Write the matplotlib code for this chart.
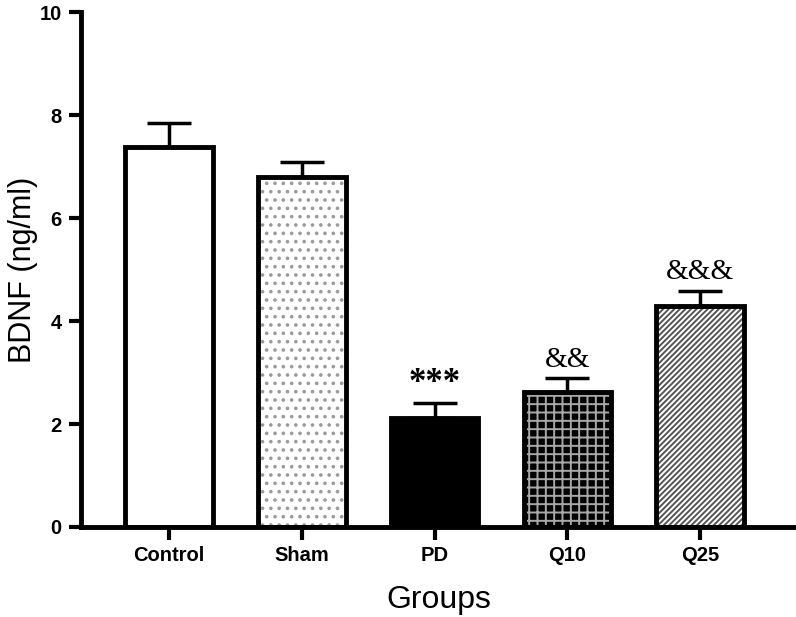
import numpy as np
import matplotlib.pyplot as plt

groups = ["Control", "Sham", "PD", "Q10", "Q25"]
bdnf = [7.38, 6.80, 2.12, 2.62, 4.29]
sem = [0.46, 0.29, 0.29, 0.27, 0.30]
marks = ["", "", "***", "&&", "&&&"]

plt.rcParams['font.family'] = ['Liberation Sans', 'DejaVu Sans']

fig = plt.figure(figsize=(7.96, 6.17), dpi=100)
ax = fig.add_axes([0.102, 0.146, 0.898, 0.834])

x = np.arange(len(groups))
w = 0.66

# fill / hatch layer for each bar
faces = ["white", "white", "black", "black", "white"]
hatches = [None, "..", None, "++", "//////"]
hcolors = ["white", "#9a9a9a", "black", "#a8a8a8", "#555555"]
plt.rcParams['hatch.linewidth'] = 1.4
for i in range(len(groups)):
    ax.bar(x[i], bdnf[i], w, color=faces[i], hatch=hatches[i],
           edgecolor=hcolors[i], linewidth=0, zorder=2)

# outlines
ax.bar(x, bdnf, w, facecolor="none", edgecolor="black", linewidth=3.5, zorder=3)

# upper error bars only
ax.errorbar(x, bdnf, yerr=[np.zeros(len(x)), sem], fmt="none", ecolor="black",
            elinewidth=2.5, capsize=16, capthick=2.5, zorder=4)

for i in range(len(groups)):
    if marks[i] == "***":
        ax.annotate(marks[i], (x[i], bdnf[i] + sem[i]), xytext=(0, 2),
                    textcoords="offset points", ha="center", va="bottom",
                    fontsize=25, fontweight="bold", family="Liberation Serif")
    elif marks[i]:
        ax.annotate(marks[i], (x[i], bdnf[i] + sem[i]), xytext=(0, 4),
                    textcoords="offset points", ha="center", va="bottom",
                    fontsize=21, family="Liberation Serif")

ax.set_xlim(-0.66, 4.72)
ax.set_ylim(0, 10)
ax.set_yticks([0, 2, 4, 6, 8, 10])
ax.set_xticks(x)
ax.set_xticklabels(groups)
for lab in ax.get_xticklabels() + ax.get_yticklabels():
    lab.set_fontweight("bold")
    lab.set_fontsize(14.5)

ax.spines["top"].set_visible(False)
ax.spines["right"].set_visible(False)
ax.spines["left"].set_linewidth(3.5)
ax.spines["bottom"].set_linewidth(3.5)
ax.tick_params(direction="out", length=9, width=3, pad=5)

ax.set_ylabel("BDNF (ng/ml)", fontsize=22, labelpad=1)
ax.set_xlabel("Groups", fontsize=23, labelpad=14)

plt.savefig("out.png", dpi=100)
